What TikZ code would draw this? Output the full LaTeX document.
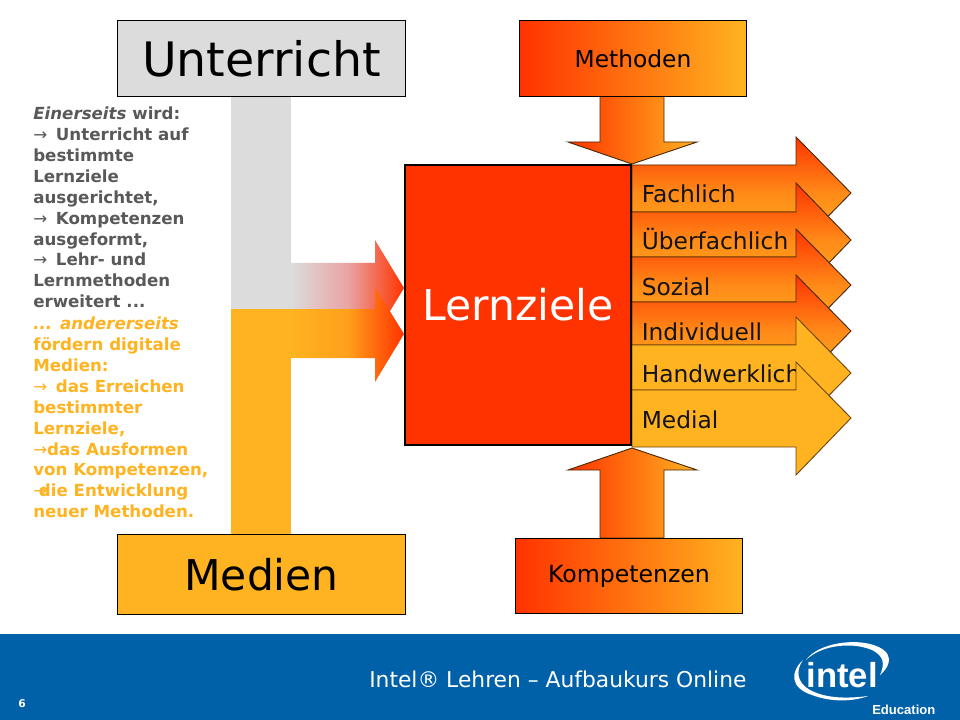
\documentclass[tikz,border=0pt]{standalone}
\usepackage{fontspec}
\setmainfont{DejaVu Sans}
\newfontfamily\logofont{Liberation Sans}
\usetikzlibrary{positioning, calc}
\definecolor{hotred}{HTML}{FF3300}
\definecolor{warmorange}{HTML}{FF8A18}
\definecolor{warmyellow}{HTML}{FFB320}
\definecolor{lightgrey}{HTML}{DCDCDC}
\definecolor{footblue}{HTML}{0060A8}
\definecolor{textgrey}{HTML}{595959}
\definecolor{edgebrown}{HTML}{4A2A08}
\newcommand{\pfeil}{{\mdseries →}}
\tikzset{
  box/.style = {draw=black, line width=0.75pt, inner sep=0pt},
  hotarrow/.style = {draw=edgebrown, line width=0.7pt, top color=hotred, bottom color=warmyellow, middle color=warmorange},
  flatarrow/.style = {draw=edgebrown!80!warmyellow, line width=0.7pt, fill=warmyellow},
  sidearrow/.style = {draw=edgebrown, line width=0.7pt, left color=hotred, right color=warmyellow},
  arrowlabel/.style = {anchor=base west, inner sep=0pt, text=black!92, font=\fontsize{17.5}{20}\selectfont},
  sidetext/.style = {anchor=north west, inner sep=0pt, align=left, font=\bfseries\fontsize{12.5}{15.65}\selectfont}
}
\begin{document}
\begin{tikzpicture}[x=0.75pt,y=-0.75pt]
                    \useasboundingbox (0,0) rectangle (960,720);
                    \fill[footblue] (0,634) rectangle (960,720);
                    % bars and arrows between them
                    \fill[lightgrey] (231,96) rectangle (291,309);
                    \fill[warmyellow] (231,309) rectangle (291,534);
                    \path[left color=lightgrey, right color=hotred, middle color=red!30!lightgrey!90!white]
                      (291,263) -- (375,263) -- (375,240) -- (404,288) -- (375,336) -- (375,309) -- (291,309) -- cycle;
                    \path[left color=warmyellow, right color=hotred, middle color=warmyellow!85!hotred]
                      (291,309) -- (375,309) -- (375,287) -- (404,334) -- (375,382) -- (375,358) -- (291,358) -- cycle;
                    \node[box, fill=lightgrey, minimum width=216pt, minimum height=56.5pt] (unterricht) at (261.5,58.5)
                      {\raisebox{-1pt}{\fontsize{35.6}{40}\selectfont Unterricht}};
                    \node[box, fill=warmyellow, minimum width=216pt, minimum height=59.5pt] (medien) at (261.5,574.5)
                      {\raisebox{-1pt}{\fontsize{31.8}{38}\selectfont Medien}};
                    % left and right of Lernziele
                    \draw[hotarrow] (632,165) -- (796,165) -- (796,137) -- (851,193) -- (796,249) -- (796,212) -- (632,212) -- cycle;
                    \node[arrowlabel] (fachlich) at (641.5,203) {Fachlich};
                    \draw[hotarrow] (632,212) -- (796,212) -- (796,183) -- (851,240) -- (796,297) -- (796,257) -- (632,257) -- cycle;
                    \node[arrowlabel] (ueberfachlich) at (641.5,249.5) {Überfachlich};
                    \draw[hotarrow] (632,257) -- (796,257) -- (796,229) -- (851,285) -- (796,341) -- (796,302) -- (632,302) -- cycle;
                    \node[arrowlabel] (sozial) at (641.5,296) {Sozial};
                    \draw[hotarrow] (632,302) -- (796,302) -- (796,275) -- (851,331) -- (796,387) -- (796,345) -- (632,345) -- cycle;
                    \node[arrowlabel] (individuell) at (641.5,340) {Individuell};
                    \draw[flatarrow] (632,345) -- (796,345) -- (796,317) -- (851,373) -- (796,429) -- (796,390) -- (632,390) -- cycle;
                    \node[arrowlabel] (handwerklich) at (641.5,382) {Handwerklich};
                    \draw[flatarrow] (632,390) -- (796,390) -- (796,362) -- (851,418) -- (796,475) -- (796,447) -- (632,447) -- cycle;
                    \node[arrowlabel] (medial) at (641.5,428) {Medial};
                    \node[box, line width=1.4pt, fill=hotred, text=white, minimum width=169.5pt, minimum height=210pt] (lernziele) at (518,305)
                      {\raisebox{-1.5pt}{\fontsize{31.9}{38}\selectfont Lernziele}};
                    % top and bottom
                    \draw[sidearrow] (600,96) -- (664,96) -- (664,142) -- (697,142) -- (632,164) -- (568,142) -- (600,142) -- cycle;
                    \draw[sidearrow] (600,538) -- (664,538) -- (664,470) -- (697,470) -- (632,448) -- (568,470) -- (600,470) -- cycle;
                    \node[box, left color=hotred, right color=warmyellow, minimum width=170.5pt, minimum height=56.5pt] (methoden) at (633,58.5)
                      {\raisebox{-0.7pt}{\fontsize{17.5}{20}\selectfont Methoden}};
                    \node[box, left color=hotred, right color=warmyellow, minimum width=170.5pt, minimum height=56.5pt] (kompetenzen) at (629,576)
                      {\raisebox{-1.5pt}{\fontsize{17.7}{20}\selectfont Kompetenzen}};
                    % text on the left
                    \node[sidetext, text=textgrey] (einerseits) at (33,107) {\textit{Einerseits} wird:\\
                      \pfeil\hspace{6.5pt}Unterricht auf\\ bestimmte\\ Lernziele\\ ausgerichtet,\\ \pfeil\hspace{6.5pt}Kompetenzen\\ ausgeformt,\\
                      \pfeil\hspace{6.5pt}Lehr- und\\ Lernmethoden\\ erweitert ...};
                    \node[sidetext, text=warmyellow] (andererseits) at (33,317) {\textit{... andererseits}\\
                      fördern digitale\\ Medien:\\ \pfeil\hspace{6.5pt}das Erreichen\\ bestimmter\\ Lernziele,\\ \pfeil das Ausformen\\
                      von Kompetenzen,\\ \pfeil\hspace{-0.5em}die Entwicklung\\ neuer Methoden.};
                    % footer
                    \node[anchor=base west, inner sep=0pt, text=white, font=\fontsize{16.35}{20}\selectfont] (kurs) at (369,687)
                      {Intel® Lehren – Aufbaukurs Online};
                    \node[inner sep=0pt, text=white, font=\bfseries\fontsize{8}{10}\selectfont] (seite) at (22,703.5) {6};
                    \node[anchor=base, inner sep=0pt, text=white, font=\logofont\bfseries\fontsize{26}{30}\selectfont] (intel) at (842,687) {intel};
                    \node[anchor=base west, inner sep=0pt, text=white, font=\logofont\bfseries\fontsize{9.8}{12}\selectfont] (education) at (872,714) {Education};
                    \fill[white] (806,660) .. controls (820,640) and (870,636) .. (886,652) .. controls (892,660) and (888,668) .. (880,675)
                      .. controls (885,664) and (884,656) .. (872,650) .. controls (850,641) and (820,646) .. (806,660) -- cycle;
                    \fill[white] (803,660) .. controls (790,672) and (790,688) .. (812,695) .. controls (830,702) and (852,702) .. (868,696)
                      .. controls (845,699) and (825,698) .. (810,690) .. controls (796,682) and (796,670) .. (803,660) -- cycle;
                \end{tikzpicture}
\end{document}
